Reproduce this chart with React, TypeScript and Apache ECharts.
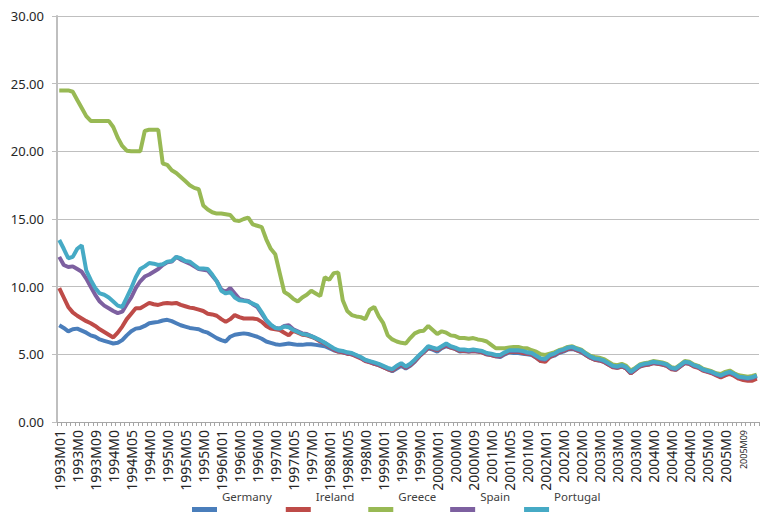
import React, { useEffect, useRef } from "react";
import * as echarts from "echarts";

const years = [1993, 1994, 1995, 1996, 1997, 1998, 1999, 2000, 2001, 2002, 2003, 2004, 2005];
const months = ["01", "02", "03", "04", "05", "06", "07", "08", "09", "10", "11", "12"];
const categories: string[] = [];
years.forEach((y) => months.forEach((m) => categories.push(`${y}M${m}`)));

// tick labels as shown (one every 4 months), truncated as in the original
const tickLabels = [
  "1993M01", "1993M0", "1993M09", "1994M0", "1994M05", "1994M0", "1995M0", "1995M05", "1995M0",
  "1996M01", "1996M0", "1996M0", "1997M0", "1997M05", "1997M0", "1998M01", "1998M05", "1998M0",
  "1999M01", "1999M0", "1999M0", "2000M01", "2000M0", "2000M09", "2001M0", "2001M05", "2001M0",
  "2002M01", "2002M0", "2002M0", "2003M0", "2003M0", "2003M0", "2004M0", "2004M0", "2004M0",
  "2005M0", "2005M0", "2005M09",
];

const yTicks = [0, 5, 10, 15, 20, 25, 30];

const germany = [
  7.15, 6.95, 6.7, 6.85, 6.9, 6.75, 6.6, 6.4, 6.3, 6.1, 6.0, 5.9,
  5.8, 5.85, 6.05, 6.4, 6.7, 6.9, 6.95, 7.1, 7.3, 7.35, 7.4, 7.5,
  7.55, 7.45, 7.3, 7.15, 7.05, 6.95, 6.9, 6.85, 6.7, 6.6, 6.4, 6.2,
  6.05, 5.95, 6.3, 6.45, 6.5, 6.55, 6.5, 6.4, 6.3, 6.15, 5.95, 5.85,
  5.75, 5.7, 5.75, 5.8, 5.75, 5.7, 5.7, 5.75, 5.75, 5.7, 5.65, 5.6,
  5.45, 5.3, 5.2, 5.15, 5.05, 5.0, 4.9, 4.75, 4.55, 4.45, 4.3, 4.2,
  4.05, 3.9, 3.75, 3.95, 4.15, 3.95, 4.15, 4.45, 4.85, 5.15, 5.45, 5.35,
  5.2, 5.45, 5.6, 5.5, 5.4, 5.2, 5.25, 5.2, 5.25, 5.2, 5.15, 5.0,
  4.95, 4.85, 4.8, 5.0, 5.15, 5.1, 5.1, 5.05, 5.0, 4.95, 4.75, 4.5,
  4.5, 4.8, 4.9, 5.1, 5.2, 5.35, 5.4, 5.3, 5.15, 4.95, 4.75, 4.6,
  4.55, 4.45, 4.25, 4.1, 4.0, 4.1, 3.95, 3.6, 3.85, 4.1, 4.2, 4.25,
  4.35, 4.3, 4.25, 4.15, 3.95, 3.85, 4.1, 4.35, 4.3, 4.15, 4.05, 3.85,
  3.75, 3.65, 3.5, 3.35, 3.5, 3.6, 3.45, 3.25, 3.2, 3.15, 3.25, 3.35,
];

const ireland = [
  9.9, 9.2, 8.5, 8.1, 7.85, 7.65, 7.45, 7.3, 7.1, 6.85, 6.65, 6.45,
  6.25, 6.6, 7.05, 7.6, 8.0, 8.4, 8.4, 8.6, 8.8, 8.7, 8.65, 8.75,
  8.8, 8.75, 8.8, 8.65, 8.55, 8.45, 8.4, 8.3, 8.2, 8.0, 7.95, 7.85,
  7.6, 7.4, 7.6, 7.9, 7.75, 7.65, 7.65, 7.65, 7.6, 7.4, 7.1, 6.9,
  6.85, 6.8, 6.6, 6.4, 6.75, 6.6, 6.45, 6.4, 6.3, 6.15, 5.95, 5.8,
  5.55, 5.35, 5.2, 5.15, 5.05, 5.0, 4.85, 4.7, 4.5, 4.4, 4.3, 4.2,
  4.05, 3.9, 3.8, 4.05, 4.25, 4.0, 4.2, 4.5, 4.85, 5.15, 5.5, 5.4,
  5.3, 5.5, 5.65, 5.5, 5.4, 5.25, 5.25, 5.2, 5.25, 5.2, 5.15, 5.0,
  4.95, 4.85, 4.85, 5.05, 5.2, 5.2, 5.2, 5.1, 5.05, 5.0, 4.75, 4.5,
  4.45, 4.8, 4.95, 5.15, 5.25, 5.4, 5.45, 5.3, 5.2, 4.95, 4.75, 4.6,
  4.55, 4.45, 4.25, 4.05, 4.0, 4.1, 3.95, 3.6, 3.85, 4.1, 4.2, 4.25,
  4.35, 4.3, 4.25, 4.15, 3.9, 3.85, 4.1, 4.35, 4.3, 4.1, 4.0, 3.8,
  3.7, 3.6, 3.45, 3.3, 3.45, 3.55, 3.4, 3.2, 3.1, 3.05, 3.05, 3.2,
];

const greece = [
  24.5, 24.5, 24.5, 24.4, 23.8, 23.2, 22.6, 22.25, 22.25, 22.25, 22.25, 22.25,
  21.8, 21.0, 20.4, 20.05, 20.0, 20.0, 20.0, 21.5, 21.6, 21.6, 21.6, 19.1,
  19.0, 18.6, 18.4, 18.1, 17.8, 17.5, 17.3, 17.2, 16.0, 15.7, 15.5, 15.4,
  15.4, 15.35, 15.3, 14.9, 14.85, 15.0, 15.1, 14.6, 14.5, 14.4, 13.5, 12.8,
  12.4, 11.0, 9.6, 9.4, 9.1, 8.9, 9.2, 9.4, 9.7, 9.5, 9.3, 10.7,
  10.5, 11.0, 11.05, 9.0, 8.2, 7.9, 7.8, 7.75, 7.6, 8.3, 8.5, 7.8,
  7.3, 6.4, 6.1, 5.95, 5.85, 5.8, 6.2, 6.55, 6.7, 6.75, 7.1, 6.8,
  6.5, 6.7, 6.6, 6.4, 6.35, 6.2, 6.2, 6.15, 6.2, 6.1, 6.05, 5.95,
  5.7, 5.45, 5.45, 5.45, 5.5, 5.55, 5.55, 5.45, 5.45, 5.3, 5.2, 5.0,
  4.95, 5.05, 5.15, 5.3, 5.4, 5.55, 5.6, 5.45, 5.35, 5.1, 4.9, 4.8,
  4.75, 4.65, 4.45, 4.25, 4.2, 4.3, 4.15, 3.8, 4.0, 4.25, 4.35, 4.4,
  4.5, 4.45, 4.4, 4.3, 4.05, 4.0, 4.25, 4.5, 4.45, 4.25, 4.15, 3.95,
  3.85, 3.75, 3.6, 3.55, 3.7, 3.8, 3.6, 3.45, 3.4, 3.35, 3.4, 3.5,
];

const spain = [
  12.2, 11.6, 11.45, 11.5, 11.3, 11.1, 10.6, 10.0, 9.4, 8.9, 8.6, 8.4,
  8.2, 8.05, 8.15, 8.7, 9.2, 9.9, 10.4, 10.75, 10.9, 11.1, 11.3, 11.6,
  11.8, 11.85, 12.2, 12.0, 11.85, 11.7, 11.5, 11.3, 11.25, 11.2, 10.8, 10.4,
  9.8, 9.6, 9.9, 9.5, 9.1, 9.0, 8.95, 8.7, 8.5, 8.0, 7.5, 7.15,
  6.95, 6.9, 7.1, 7.15, 6.85, 6.7, 6.55, 6.5, 6.35, 6.2, 6.0, 5.85,
  5.6, 5.4, 5.25, 5.2, 5.1, 5.05, 4.9, 4.75, 4.55, 4.45, 4.35, 4.25,
  4.1, 3.95, 3.85, 4.1, 4.3, 4.05, 4.25, 4.55, 4.9, 5.2, 5.55, 5.45,
  5.35, 5.55, 5.7, 5.55, 5.45, 5.3, 5.3, 5.25, 5.3, 5.25, 5.2, 5.05,
  5.0, 4.9, 4.9, 5.1, 5.25, 5.25, 5.25, 5.2, 5.1, 5.05, 4.85, 4.65,
  4.6, 4.9, 5.0, 5.2, 5.3, 5.45, 5.5, 5.35, 5.25, 5.0, 4.8, 4.65,
  4.6, 4.5, 4.3, 4.1, 4.05, 4.15, 4.0, 3.65, 3.9, 4.15, 4.25, 4.3,
  4.4, 4.35, 4.3, 4.2, 3.95, 3.9, 4.15, 4.4, 4.35, 4.15, 4.05, 3.85,
  3.75, 3.65, 3.5, 3.4, 3.55, 3.65, 3.5, 3.3, 3.25, 3.2, 3.25, 3.4,
];

const portugal = [
  13.45, 12.8, 12.1, 12.2, 12.8, 13.05, 11.2, 10.5, 9.9, 9.5, 9.4, 9.2,
  8.9, 8.6, 8.5, 9.2, 9.9, 10.7, 11.3, 11.5, 11.75, 11.7, 11.6, 11.65,
  11.85, 11.9, 12.2, 12.1, 11.9, 11.85, 11.6, 11.35, 11.35, 11.3, 10.9, 10.4,
  9.7, 9.5, 9.6, 9.2, 9.0, 8.95, 8.9, 8.75, 8.6, 8.1, 7.55, 7.2,
  6.95, 6.9, 7.05, 7.0, 6.8, 6.65, 6.5, 6.45, 6.35, 6.2, 6.05, 5.85,
  5.65, 5.45, 5.3, 5.25, 5.15, 5.1, 4.95, 4.8, 4.6, 4.5, 4.4, 4.3,
  4.15, 4.0, 3.9, 4.15, 4.35, 4.1, 4.3, 4.6, 4.95, 5.25, 5.6, 5.5,
  5.4, 5.6, 5.8, 5.6, 5.5, 5.35, 5.35, 5.3, 5.35, 5.3, 5.25, 5.1,
  5.05, 4.95, 4.95, 5.15, 5.3, 5.3, 5.3, 5.25, 5.15, 5.1, 4.9, 4.7,
  4.65, 4.95, 5.05, 5.25, 5.35, 5.5, 5.55, 5.4, 5.3, 5.05, 4.85, 4.7,
  4.65, 4.55, 4.35, 4.15, 4.1, 4.2, 4.05, 3.7, 3.95, 4.2, 4.3, 4.35,
  4.45, 4.4, 4.35, 4.25, 4.0, 3.95, 4.2, 4.45, 4.4, 4.2, 4.1, 3.9,
  3.8, 3.7, 3.55, 3.45, 3.6, 3.7, 3.55, 3.35, 3.3, 3.25, 3.3, 3.45,
];

const seriesNames = ["Germany", "Ireland", "Greece", "Spain", "Portugal"];
const seriesData = [germany, ireland, greece, spain, portugal];
const colors = ["#4a7ebb", "#be4b48", "#98b954", "#7d60a0", "#46aac5"];

// legend swatch drawn low, under the text baseline as in the original
const swatchIcon = "path://M0,0L0.01,0L0.01,0.01ZM0,26L25,26L25,31L0,31Z";

export default function App() {
  const ref = useRef<HTMLDivElement>(null);
  useEffect(() => {
    if (!ref.current) return;
    const chart = echarts.init(ref.current, null, { renderer: "svg" });
    const font = "'Noto Sans', 'Open Sans', sans-serif";
    const tickMap: Record<string, string> = {};
    tickLabels.forEach((t, i) => {
      const c = categories[i * 4];
      if (c) tickMap[c] = i === tickLabels.length - 1 ? `{s|${t}}` : t;
    });
    chart.setOption({
      animation: false,
      color: colors,
      textStyle: { fontFamily: font },
      grid: { left: 57, right: 2, top: 16, bottom: 90, containLabel: false },
      legend: {
        data: seriesNames,
        left: 187,
        top: 476,
        itemWidth: 25,
        itemHeight: 31,
        itemGap: 14,
        icon: swatchIcon,
        itemStyle: { borderWidth: 0 },
        textStyle: {
          fontSize: 11.5,
          color: "#404040",
          fontFamily: font,
        },
      },
      xAxis: {
        type: "category",
        data: categories,
        boundaryGap: true,
        axisLine: { lineStyle: { color: "#a6a6a6", width: 1 } },
        axisTick: { show: true, interval: 0, length: 4, lineStyle: { color: "#a6a6a6" } },
        axisLabel: {
          interval: 3,
          rotate: 90,
          fontSize: 14,
          color: "#262626",
          margin: 8,
          fontFamily: font,
          formatter: (v: string) => tickMap[v] ?? "",
          rich: { s: { fontSize: 9, color: "#262626", fontFamily: font } },
        },
        splitLine: { show: false },
      },
      yAxis: {
        type: "value",
        min: yTicks[0],
        max: yTicks[yTicks.length - 1],
        interval: 5,
        axisLine: { show: true, lineStyle: { color: "#bfbfbf", width: 2 } },
        axisTick: { show: true, length: 5, lineStyle: { color: "#bfbfbf" } },
        axisLabel: {
          fontSize: 13,
          color: "#262626",
          margin: 13,
          fontFamily: font,
          formatter: (v: number) => v.toFixed(2),
        },
        splitLine: { show: true, lineStyle: { color: "#bfbfbf", width: 1 } },
      },
      series: seriesNames.map((name, i) => ({
        name,
        type: "line",
        data: seriesData[i],
        showSymbol: false,
        symbol: "none",
        lineStyle: { width: 4, color: colors[i] },
        itemStyle: { color: colors[i] },
      })),
    });
    return () => chart.dispose();
  }, []);
  return <div ref={ref} style={{ width: 761, height: 512, position: "absolute", left: 0, top: 0 }} />;
}
